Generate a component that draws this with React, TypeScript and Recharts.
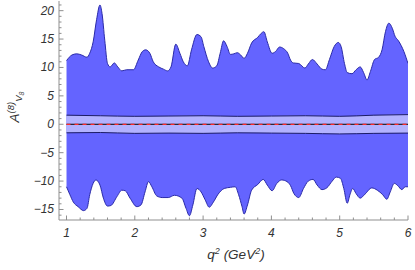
import { Area, ComposedChart, Line, XAxis, YAxis } from "recharts";

// outer band edges as [q^2, A]
const upperEdge: [number, number][] = [
  [1.0, 11.2], [1.08, 12.2], [1.15, 12.4], [1.22, 12.2], [1.3, 11.8], [1.34, 12.5],
  [1.39, 14.5], [1.44, 18.4], [1.49, 21.0], [1.52, 19.5], [1.56, 14.8], [1.6, 10.7],
  [1.64, 10.1], [1.7, 10.8], [1.75, 10.1], [1.81, 9.4], [1.88, 9.6], [1.98, 9.6],
  [2.05, 11.3], [2.11, 12.8], [2.16, 13.1], [2.22, 12.5], [2.27, 11.0], [2.35, 10.1],
  [2.42, 9.7], [2.48, 9.4], [2.53, 10.1], [2.6, 14.1], [2.66, 12.5], [2.71, 11.0],
  [2.77, 10.3], [2.83, 13.1], [2.91, 15.8], [2.97, 15.4], [3.01, 13.7], [3.08, 11.0],
  [3.14, 9.9], [3.2, 10.3], [3.25, 12.5], [3.3, 14.7], [3.35, 13.7], [3.4, 12.3],
  [3.45, 12.4], [3.5, 12.6], [3.55, 12.2], [3.6, 11.6], [3.65, 12.5], [3.71, 14.3],
  [3.8, 15.3], [3.85, 16.0], [3.89, 16.3], [3.94, 14.5], [4.01, 12.5], [4.06, 12.8],
  [4.12, 13.6], [4.18, 13.3], [4.24, 12.5], [4.28, 11.3], [4.32, 10.8], [4.4, 10.7],
  [4.49, 9.9], [4.54, 10.6], [4.6, 11.4], [4.67, 10.6], [4.74, 9.7], [4.79, 9.6],
  [4.85, 11.4], [4.92, 13.7], [4.98, 14.4], [5.02, 13.7], [5.07, 10.7], [5.11, 9.1],
  [5.18, 8.9], [5.24, 9.6], [5.3, 10.1], [5.35, 9.1], [5.4, 7.8], [5.45, 9.3],
  [5.51, 11.4], [5.57, 11.8], [5.62, 13.1], [5.67, 16.3], [5.72, 17.8], [5.77, 16.9],
  [5.81, 15.5], [5.86, 14.7], [5.94, 12.8], [6.0, 10.7],
];

const lowerEdge: [number, number][] = [
  [1.0, -11.0], [1.05, -12.4], [1.1, -13.7], [1.17, -14.5], [1.25, -15.2], [1.3, -14.8],
  [1.34, -12.4], [1.39, -10.4], [1.43, -9.8], [1.49, -10.7], [1.54, -13.0], [1.6, -14.4],
  [1.65, -14.3], [1.74, -12.7], [1.81, -11.6], [1.86, -11.7], [1.93, -13.0], [2.03, -14.5],
  [2.09, -14.2], [2.15, -11.9], [2.2, -10.1], [2.25, -11.0], [2.32, -12.6], [2.4, -12.9],
  [2.49, -12.9], [2.58, -12.5], [2.69, -13.0], [2.75, -14.8], [2.8, -16.1], [2.85, -14.2],
  [2.91, -11.3], [2.97, -11.9], [3.03, -13.3], [3.09, -14.6], [3.15, -13.7], [3.22, -12.3],
  [3.31, -11.3], [3.4, -11.1], [3.47, -11.0], [3.52, -12.4], [3.57, -14.5], [3.6, -15.8],
  [3.65, -14.2], [3.71, -11.6], [3.8, -10.6], [3.88, -9.7], [3.94, -10.7], [4.01, -11.7],
  [4.08, -10.4], [4.15, -9.8], [4.23, -10.1], [4.28, -10.8], [4.33, -12.2], [4.4, -12.9],
  [4.47, -11.3], [4.54, -10.0], [4.61, -9.7], [4.67, -10.7], [4.74, -11.5], [4.81, -11.2],
  [4.89, -10.0], [4.95, -9.3], [5.01, -9.5], [5.06, -11.3], [5.11, -13.9], [5.15, -12.4],
  [5.19, -11.3], [5.24, -12.2], [5.3, -13.0], [5.37, -12.3], [5.47, -11.2], [5.55, -11.6],
  [5.63, -12.4], [5.69, -13.2], [5.74, -11.9], [5.8, -10.4], [5.85, -10.8], [5.91, -11.5],
  [5.96, -11.0], [6.0, -11.0],
];

// inner (light) band
const innerQ = [1, 1.5, 2, 2.5, 3, 3.5, 4, 4.5, 5, 5.5, 6];
const innerHi = [1.6, 1.5, 1.4, 1.45, 1.5, 1.4, 1.45, 1.5, 1.4, 1.6, 1.7];
const innerLo = [-1.5, -1.45, -1.6, -1.55, -1.6, -1.5, -1.55, -1.6, -1.7, -1.6, -1.55];

const zeroQ = [1, 6];

const xMajor = [1, 2, 3, 4, 5, 6];
const yMajor = [-15, -10, -5, 0, 5, 10, 15, 20];

const xDomain: [number, number] = [0.89, 6.0];
const yDomain: [number, number] = [-16.85, 21.7];

const xTicks: number[] = [];
for (let i = 0; i <= 25; i++) xTicks.push(Math.round((1 + i * 0.2) * 10) / 10);
const yTicks: number[] = [];
for (let v = -16; v <= 21; v++) yTicks.push(v);

const upperData = upperEdge.map(([x, y]) => ({ x, y }));
const lowerData = lowerEdge.map(([x, y]) => ({ x, y }));
const innerData = innerQ.map((x, i) => ({ x, lo: innerLo[i], hi: innerHi[i] }));
const zeroData = zeroQ.map((x) => ({ x, y: 0 }));

const FRAME = "#8f8f8f";
const font = "'Liberation Sans', Arial, sans-serif";
const tickText = { fontFamily: font, fontStyle: "italic", fontSize: 12, fill: "#333" };

const isMajorX = (v: number) => xMajor.includes(v);
const isMajorY = (v: number) => yMajor.includes(v);
const fmt = (v: number) => (v < 0 ? "\u2212" + Math.abs(v) : String(v));

function BottomTick(props: any) {
  const { x, y, payload } = props;
  const major = isMajorX(payload.value);
  return (
    <g>
      <line x1={x} x2={x} y1={y} y2={y - (major ? 4.5 : 2.5)} stroke={FRAME} />
      {major && (
        <text x={x} y={y + 17} textAnchor="middle" {...tickText}>
          {payload.value}
        </text>
      )}
    </g>
  );
}

function TopTick(props: any) {
  const { x, y, payload } = props;
  const major = isMajorX(payload.value);
  return <line x1={x} x2={x} y1={y} y2={y + (major ? 4.5 : 2.5)} stroke={FRAME} />;
}

function LeftTick(props: any) {
  const { x, y, payload } = props;
  const major = isMajorY(payload.value);
  return (
    <g>
      <line x1={x} x2={x + (major ? 4.5 : 2.5)} y1={y} y2={y} stroke={FRAME} />
      {major && (
        <text x={x - 5} y={y + 4} textAnchor="end" {...tickText}>
          {fmt(payload.value)}
        </text>
      )}
    </g>
  );
}

function RightTick(props: any) {
  const { x, y, payload } = props;
  const major = isMajorY(payload.value);
  return <line x1={x} x2={x - (major ? 4.5 : 2.5)} y1={y} y2={y} stroke={FRAME} />;
}

export default function App() {
  return (
    <div style={{ position: "absolute", left: 0, top: 0, width: 415, height: 270, background: "#fff" }}>
      <ComposedChart width={415} height={270} margin={{ top: 1, right: 7, bottom: 0, left: 0 }}>
        <XAxis
          dataKey="x"
          type="number"
          domain={xDomain}
          allowDataOverflow
          ticks={xTicks}
          interval={0}
          height={50}
          tickSize={0}
          tickMargin={0}
          tickLine={false}
          axisLine={{ stroke: FRAME }}
          tick={<BottomTick />}
        />
        <XAxis
          xAxisId="top"
          orientation="top"
          dataKey="x"
          type="number"
          domain={xDomain}
          allowDataOverflow
          ticks={xTicks}
          interval={0}
          height={0}
          tickSize={0}
          tickMargin={0}
          tickLine={false}
          axisLine={{ stroke: FRAME }}
          tick={<TopTick />}
        />
        <YAxis
          type="number"
          domain={yDomain}
          allowDataOverflow
          ticks={yTicks}
          interval={0}
          width={59}
          tickSize={0}
          tickMargin={0}
          tickLine={false}
          axisLine={{ stroke: FRAME }}
          tick={<LeftTick />}
        />
        <YAxis
          yAxisId="right"
          orientation="right"
          type="number"
          domain={yDomain}
          allowDataOverflow
          ticks={yTicks}
          interval={0}
          width={0}
          tickSize={0}
          tickMargin={0}
          tickLine={false}
          axisLine={{ stroke: FRAME }}
          tick={<RightTick />}
        />

        <Area
          data={upperData}
          dataKey="y"
          type="monotone"
          baseValue={0}
          fill="#6464ff"
          fillOpacity={1}
          stroke="#2a2aa8"
          strokeWidth={1}
          isAnimationActive={false}
        />
        <Area
          data={lowerData}
          dataKey="y"
          type="monotone"
          baseValue={0}
          fill="#6464ff"
          fillOpacity={1}
          stroke="#2a2aa8"
          strokeWidth={1}
          isAnimationActive={false}
        />
        <Area
          data={innerData}
          dataKey={(d: any) => [d.lo, d.hi]}
          type="monotone"
          fill="#b2b2ff"
          fillOpacity={1}
          stroke="#1c1c66"
          strokeWidth={1}
          isAnimationActive={false}
        />
        <Line
          data={zeroData}
          dataKey="y"
          stroke="#000"
          strokeWidth={1}
          dot={false}
          isAnimationActive={false}
        />
        <Line
          data={zeroData}
          dataKey="y"
          stroke="#ff2a2a"
          strokeWidth={1.3}
          strokeDasharray="4 4"
          dot={false}
          isAnimationActive={false}
        />
      </ComposedChart>

      <svg
        width={415}
        height={270}
        style={{ position: "absolute", left: 0, top: 0, pointerEvents: "none" }}
      >
        <text
          transform="rotate(-90)"
          x={-107}
          y={19}
          textAnchor="middle"
          fontFamily={font}
          fontStyle="italic"
          fontSize={13.5}
          fill="#333"
        >
          A
          <tspan fontSize={9.5} dy={-5}>(8)</tspan>
          <tspan fontSize={9.5} dy={8}>V</tspan>
          <tspan fontSize={7} dy={2}>8</tspan>
        </text>
        <text
          x={236}
          y={259}
          textAnchor="middle"
          fontFamily={font}
          fontStyle="italic"
          fontSize={13.5}
          fill="#333"
        >
          q
          <tspan fontSize={9} dy={-5}>2</tspan>
          <tspan dy={5}> (GeV</tspan>
          <tspan fontSize={9} dy={-5}>2</tspan>
          <tspan dy={5}>)</tspan>
        </text>
      </svg>
    </div>
  );
}
